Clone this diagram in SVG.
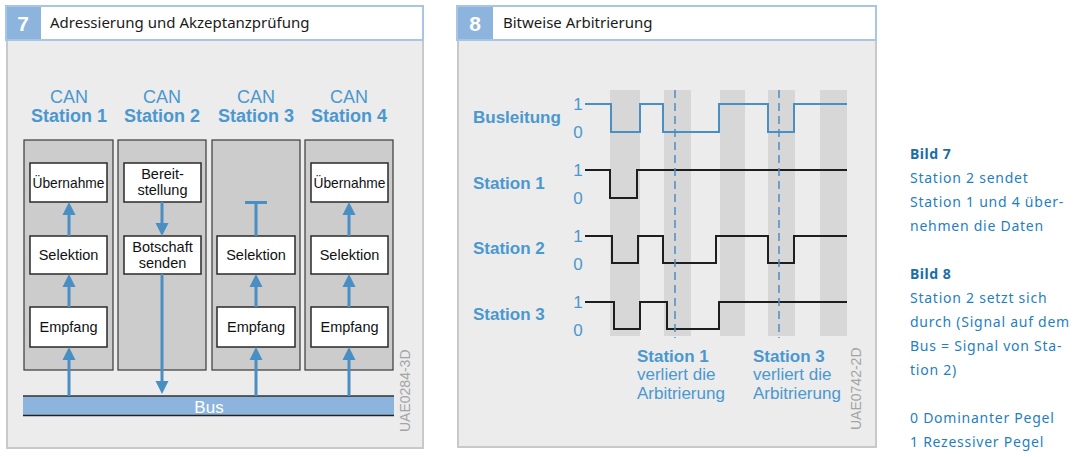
<svg xmlns="http://www.w3.org/2000/svg" width="1080" height="457" viewBox="0 0 1080 457">
<style>
.panel{fill:#ececec;stroke:#c9c9c9;stroke-width:2}
.hdrbox{fill:#8cb4dc}
.hdrwhite{fill:#ffffff}
.hdrline{fill:none;stroke:#a9c5e6;stroke-width:2}
.num{font-family:"Liberation Sans",Arial,sans-serif;font-weight:bold;font-size:21px;fill:#ffffff}
.title{font-family:"Noto Sans","Open Sans",sans-serif;font-size:15px;fill:#1a1a1a}
.col{fill:#cbcccb;stroke:#3a3a3a;stroke-width:1.2}
.box{fill:#ffffff;stroke:#2a2a2a;stroke-width:1.5}
.lbl{font-family:"Liberation Sans",Arial,sans-serif;font-size:14.5px;fill:#111;text-anchor:middle}
.can{font-family:"Liberation Sans",Arial,sans-serif;font-size:18px;fill:#4a98cf;text-anchor:middle}
.canb{font-family:"Liberation Sans",Arial,sans-serif;font-size:18px;font-weight:bold;fill:#4a98cf;text-anchor:middle}
.arr{stroke:#4a8fc4;stroke-width:3;fill:none}
.ah{fill:#4a8fc4}
.code{font-family:"Liberation Sans",Arial,sans-serif;font-size:14px;fill:#a4a4a4}
.sig{font-family:"Liberation Sans",Arial,sans-serif;font-size:17px;font-weight:bold;fill:#4a98cf}
.lvl{font-family:"Liberation Sans",Arial,sans-serif;font-size:17px;fill:#4a98cf;text-anchor:middle}
.stripe{fill:#d7d7d7}
.wave{fill:none;stroke:#1e1e1e;stroke-width:2}
.bwave{fill:none;stroke:#4a8fc4;stroke-width:2}
.dash{stroke:#4a8fc4;stroke-width:1.5;stroke-dasharray:8,5}
.note{font-family:"Liberation Sans",Arial,sans-serif;font-size:17px;fill:#4a98cf}
.noteb{font-family:"Liberation Sans",Arial,sans-serif;font-size:17px;font-weight:bold;fill:#4a98cf}
.side{font-family:"Noto Sans","Open Sans",sans-serif;font-size:14px;fill:#1f7fbf;letter-spacing:0.75px}
.sideb{font-family:"Noto Sans","Open Sans",sans-serif;font-size:14px;font-weight:bold;fill:#1a6ea8;letter-spacing:0.5px}
</style>

<g id="panel7">
  <rect class="panel" x="7" y="40" width="416" height="408"/>
  <rect class="hdrbox" x="6" y="6" width="35" height="34"/>
  <rect class="hdrwhite" x="41" y="7" width="381" height="32"/>
  <rect class="hdrline" x="6" y="6" width="417" height="34"/>
  <text class="num" x="23" y="31" text-anchor="middle">7</text>
  <text class="title" x="50" y="28">Adressierung und Akzeptanzprüfung</text>
</g>

<g id="station1">
  <text class="can" x="69" y="103">CAN</text>
  <text class="canb" x="69" y="122">Station 1</text>
  <rect class="col" x="24" y="140" width="89" height="230"/>
  <g id="s1-uebernahme"><rect class="box" x="30" y="163" width="77" height="39"/><text class="lbl" x="68.5" y="187.5" textLength="72" lengthAdjust="spacingAndGlyphs">Übernahme</text></g>
  <g id="s1-selektion"><rect class="box" x="30" y="236" width="77" height="38"/><text class="lbl" x="68.5" y="260">Selektion</text></g>
  <g id="s1-empfang"><rect class="box" x="30" y="307" width="77" height="40"/><text class="lbl" x="68.5" y="332">Empfang</text></g>
</g>

<g id="station2">
  <text class="can" x="162" y="103">CAN</text>
  <text class="canb" x="162" y="122">Station 2</text>
  <rect class="col" x="118" y="140" width="88" height="230"/>
  <g id="s2-bereit"><rect class="box" x="124" y="163" width="77" height="39"/><text class="lbl" x="162.5" y="179">Bereit-</text><text class="lbl" x="162.5" y="195">stellung</text></g>
  <g id="s2-botschaft"><rect class="box" x="124" y="236" width="77" height="38"/><text class="lbl" x="162.5" y="252">Botschaft</text><text class="lbl" x="162.5" y="268">senden</text></g>
</g>

<g id="station3">
  <text class="can" x="256" y="103">CAN</text>
  <text class="canb" x="256" y="122">Station 3</text>
  <rect class="col" x="212" y="140" width="88" height="230"/>
  <g id="s3-selektion"><rect class="box" x="217" y="236" width="78" height="38"/><text class="lbl" x="256" y="260">Selektion</text></g>
  <g id="s3-empfang"><rect class="box" x="217" y="307" width="78" height="40"/><text class="lbl" x="256" y="332">Empfang</text></g>
</g>

<g id="station4">
  <text class="can" x="349" y="103">CAN</text>
  <text class="canb" x="349" y="122">Station 4</text>
  <rect class="col" x="305" y="140" width="88" height="230"/>
  <g id="s4-uebernahme"><rect class="box" x="311" y="163" width="77" height="39"/><text class="lbl" x="349.5" y="187.5" textLength="72" lengthAdjust="spacingAndGlyphs">Übernahme</text></g>
  <g id="s4-selektion"><rect class="box" x="311" y="236" width="77" height="38"/><text class="lbl" x="349.5" y="260">Selektion</text></g>
  <g id="s4-empfang"><rect class="box" x="311" y="307" width="77" height="40"/><text class="lbl" x="349.5" y="332">Empfang</text></g>
</g>

<g id="bus">
  <rect x="23" y="396" width="371" height="19" fill="#8cb4dc"/>
  <line x1="23" y1="396" x2="394" y2="396" stroke="#333" stroke-width="1.5"/>
  <line x1="23" y1="415.5" x2="394" y2="415.5" stroke="#222" stroke-width="1.5"/>
  <text x="209" y="413" font-family="Liberation Sans, Arial, sans-serif" font-size="17" fill="#ffffff" text-anchor="middle">Bus</text>
</g>

<text class="code" transform="translate(410,432) rotate(-90)">UAE0284-3D</text>

<g id="connectors7">
  <line class="arr" x1="69" y1="396" x2="69" y2="358"/><polygon class="ah" points="62.5,360 75.5,360 69,347"/>
  <line class="arr" x1="69" y1="307" x2="69" y2="287"/><polygon class="ah" points="62.5,287 75.5,287 69,274"/>
  <line class="arr" x1="69" y1="236" x2="69" y2="215"/><polygon class="ah" points="62.5,215 75.5,215 69,202"/>
  <line class="arr" x1="162" y1="202" x2="162" y2="224"/><polygon class="ah" points="155.5,223 168.5,223 162,236"/>
  <line class="arr" x1="162" y1="274" x2="162" y2="383"/><polygon class="ah" points="155.5,381 168.5,381 162,394"/>
  <line class="arr" x1="256" y1="396" x2="256" y2="358"/><polygon class="ah" points="249.5,360 262.5,360 256,347"/>
  <line class="arr" x1="256" y1="307" x2="256" y2="287"/><polygon class="ah" points="249.5,287 262.5,287 256,274"/>
  <line class="arr" x1="256" y1="236" x2="256" y2="202"/><line class="arr" x1="245" y1="202.5" x2="267" y2="202.5"/>
  <line class="arr" x1="349" y1="396" x2="349" y2="358"/><polygon class="ah" points="342.5,360 355.5,360 349,347"/>
  <line class="arr" x1="349" y1="307" x2="349" y2="287"/><polygon class="ah" points="342.5,287 355.5,287 349,274"/>
  <line class="arr" x1="349" y1="236" x2="349" y2="215"/><polygon class="ah" points="342.5,215 355.5,215 349,202"/>
</g>

<g id="panel8">
  <rect class="panel" x="458" y="40" width="418" height="407"/>
  <rect class="hdrbox" x="457" y="6" width="36" height="34"/>
  <rect class="hdrwhite" x="493" y="7" width="382" height="32"/>
  <rect class="hdrline" x="457" y="6" width="419" height="34"/>
  <text class="num" x="475" y="31" text-anchor="middle">8</text>
  <text class="title" x="503" y="28">Bitweise Arbitrierung</text>
</g>

<g id="stripes">
  <rect class="stripe" x="610" y="90" width="30" height="246"/>
  <rect class="stripe" x="664" y="90" width="27" height="246"/>
  <rect class="stripe" x="720" y="90" width="25" height="246"/>
  <rect class="stripe" x="768" y="90" width="27" height="246"/>
  <rect class="stripe" x="820" y="90" width="27" height="246"/>
</g>

<g id="busleitung">
  <text class="sig" x="473" y="123">Busleitung</text>
  <text class="lvl" x="578" y="110">1</text>
  <text class="lvl" x="578" y="138">0</text>
  <polyline class="bwave" points="585,104 611,104 611,132 640,132 640,104 663,104 663,132 719,132 719,104 768,104 768,132 794,132 794,104 847,104"/>
</g>

<g id="sig-station1">
  <text class="sig" x="473" y="189">Station 1</text>
  <text class="lvl" x="578" y="176">1</text>
  <text class="lvl" x="578" y="204">0</text>
  <polyline class="wave" points="585,170 610,170 610,198 637,198 637,170 847,170"/>
</g>

<g id="sig-station2">
  <text class="sig" x="473" y="254">Station 2</text>
  <text class="lvl" x="578" y="242">1</text>
  <text class="lvl" x="578" y="270">0</text>
  <polyline class="wave" points="585,236 612,236 612,263 638,263 638,236 663,236 663,263 716,263 716,236 768,236 768,263 794,263 794,236 847,236"/>
</g>

<g id="sig-station3">
  <text class="sig" x="473" y="320">Station 3</text>
  <text class="lvl" x="578" y="308">1</text>
  <text class="lvl" x="578" y="336">0</text>
  <polyline class="wave" points="585,302 614,302 614,329 640,329 640,302 667,302 667,329 719,329 719,302 847,302"/>
</g>

<g id="connectors8">
  <line class="dash" x1="675" y1="90" x2="675" y2="338"/>
  <line class="dash" x1="779" y1="90" x2="779" y2="338"/>
</g>

<g id="note1">
  <text class="noteb" x="637" y="362">Station 1</text>
  <text class="note" x="637" y="380">verliert die</text>
  <text class="note" x="637" y="399">Arbitrierung</text>
</g>
<g id="note3">
  <text class="noteb" x="753" y="362">Station 3</text>
  <text class="note" x="753" y="380">verliert die</text>
  <text class="note" x="753" y="399">Arbitrierung</text>
</g>

<text class="code" transform="translate(861,430) rotate(-90)">UAE0742-2D</text>

<g id="sidetext">
  <text class="sideb" x="910" y="159">Bild 7</text>
  <text class="side" x="910" y="183">Station 2 sendet</text>
  <text class="side" x="910" y="207">Station 1 und 4 über-</text>
  <text class="side" x="910" y="231">nehmen die Daten</text>
  <text class="sideb" x="910" y="279">Bild 8</text>
  <text class="side" x="910" y="303">Station 2 setzt sich</text>
  <text class="side" x="910" y="327">durch (Signal auf dem</text>
  <text class="side" x="910" y="351">Bus = Signal von Sta-</text>
  <text class="side" x="910" y="375">tion 2)</text>
  <text class="side" x="910" y="423">0 Dominanter Pegel</text>
  <text class="side" x="910" y="447">1 Rezessiver Pegel</text>
</g>
</svg>
